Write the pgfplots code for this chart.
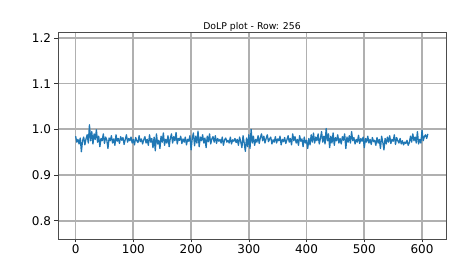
\documentclass[border=0pt]{standalone}
\usepackage{pgfplots}
\pgfplotsset{compat=1.18}
\usepackage{fontspec}
\setmainfont{DejaVu Sans}
\definecolor{mplblue}{HTML}{1F77B4}
\definecolor{gridgray}{HTML}{B0B0B0}
\begin{document}
\begin{tikzpicture}
\path[use as bounding box] (-58pt,-17pt) rectangle (399pt,239pt);
\begin{axis}[
  at={(0,0)}, anchor=south west,
  scale only axis, width=388pt, height=207pt,
  xmin=-30.5, xmax=641.5, ymin=0.76, ymax=1.213,
  xtick={0,100,...,600}, ytick={0.8,0.9,1.0,1.1,1.2},
  yticklabel style={/pgf/number format/.cd, fixed, fixed zerofill, precision=1},
  /pgf/number format/assume math mode=true,
  ticklabel style={font=\fontsize{12}{12}\selectfont},
  xticklabel style={yshift=1pt},
  tick align=outside, tick pos=left,
  major tick length=3.5pt,
  tick style={black!80, line width=0.6pt},
  grid=major,
  major grid style={gridgray, line width=1.7pt},
  axis line style={black!70, line width=0.6pt},
  every axis title shift=0pt,
  title={DoLP plot - Row: 256},
  title style={font=\fontsize{9.3}{10}\selectfont, at={(0.5,1)}, anchor=base, yshift=2.5pt},
]
\addplot[mplblue, line width=1.3pt, line join=round] table {
x y
0 0.985
2 0.972
4 0.978
6 0.968
8 0.981
10 0.951
12 0.975
14 0.983
16 0.966
18 0.979
20 0.988
22 0.970
24 1.010
26 0.975
28 0.995
30 0.968
32 0.990
34 0.978
36 0.999
38 0.972
40 0.985
42 0.962
44 0.980
46 0.975
48 0.990
50 0.969
52 0.983
54 0.977
56 0.958
58 0.981
60 0.975
62 0.986
64 0.970
66 0.979
68 0.965
70 0.988
72 0.974
74 0.980
76 0.969
78 0.984
80 0.976
82 0.982
84 0.967
86 0.978
88 0.988
90 0.972
92 0.980
94 0.975
96 0.983
98 0.970
100 0.978
102 0.966
104 0.982
106 0.975
108 0.971
110 0.986
112 0.973
114 0.979
116 0.968
118 0.977
120 0.984
122 0.970
124 0.978
126 0.965
128 0.988
130 0.972
132 0.980
134 0.960
136 0.983
138 0.953
140 0.990
142 0.968
144 0.976
146 0.958
148 0.985
150 0.972
152 0.992
154 0.965
156 0.978
158 0.970
160 0.986
162 0.962
164 0.980
166 0.990
168 0.970
170 0.984
172 0.975
174 0.993
176 0.968
178 0.980
180 0.976
182 0.985
184 0.969
186 0.979
188 0.972
190 0.983
192 0.966
194 0.978
196 0.974
198 0.986
200 0.955
202 0.980
204 0.992
206 0.964
208 0.985
210 0.970
212 0.996
214 0.962
216 0.983
218 0.975
220 0.988
222 0.970
224 0.981
226 0.960
228 0.985
230 0.973
232 0.990
234 0.968
236 0.979
238 0.984
240 0.972
242 0.986
244 0.969
246 0.980
248 0.974
250 0.978
252 0.970
254 0.983
256 0.965
258 0.977
260 0.981
262 0.972
264 0.976
266 0.970
268 0.983
270 0.968
272 0.977
274 0.974
276 0.980
278 0.971
280 0.978
282 0.965
284 0.983
286 0.973
288 0.960
290 0.986
292 0.970
294 0.952
296 0.981
298 0.962
300 0.988
302 0.958
304 1.000
306 0.970
308 0.985
310 0.965
312 0.978
314 0.972
316 0.986
318 0.969
320 0.982
322 0.990
324 0.975
326 0.985
328 0.970
330 0.980
332 0.988
334 0.973
336 0.979
338 0.983
340 0.968
342 0.977
344 0.972
346 0.984
348 0.970
350 0.979
352 0.975
354 0.985
356 0.966
358 0.978
360 0.973
362 0.982
364 0.969
366 0.977
368 0.986
370 0.972
372 0.980
374 0.966
376 0.990
378 0.975
380 0.984
382 0.970
384 0.978
386 0.965
388 0.986
390 0.974
392 0.979
394 0.962
396 0.983
398 0.970
400 0.976
402 0.958
404 0.980
406 0.966
408 0.988
410 0.972
412 0.992
414 0.970
416 0.983
418 0.975
420 0.990
422 0.968
424 0.980
426 0.995
428 0.972
430 0.985
432 0.968
434 1.002
436 0.975
438 0.990
440 0.960
442 0.985
444 0.970
446 0.992
448 0.965
450 0.982
452 0.975
454 0.988
456 0.970
458 0.980
460 0.968
462 0.984
464 0.976
466 0.990
468 0.958
470 0.983
472 0.972
474 0.986
476 0.970
478 0.995
480 0.975
482 0.982
484 0.968
486 0.978
488 0.972
490 0.987
492 0.969
494 0.980
496 0.974
498 0.983
500 0.960
502 0.980
504 0.972
506 0.985
508 0.970
510 0.978
512 0.967
514 0.982
516 0.973
518 0.976
520 0.965
522 0.982
524 0.970
526 0.978
528 0.958
530 0.985
532 0.972
534 0.955
536 0.980
538 0.968
540 0.983
542 0.972
544 0.986
546 0.969
548 0.978
550 0.974
552 0.988
554 0.967
556 0.982
558 0.975
560 0.970
562 0.980
564 0.968
566 0.975
568 0.966
570 0.972
572 0.969
574 0.976
576 0.965
578 0.971
580 0.985
582 0.972
584 0.990
586 0.975
588 0.983
590 0.970
592 0.995
594 0.968
596 0.978
598 0.970
600 0.998
602 0.975
604 0.984
606 0.988
608 0.980
610 0.990
};
\end{axis}
\end{tikzpicture}
\end{document}
